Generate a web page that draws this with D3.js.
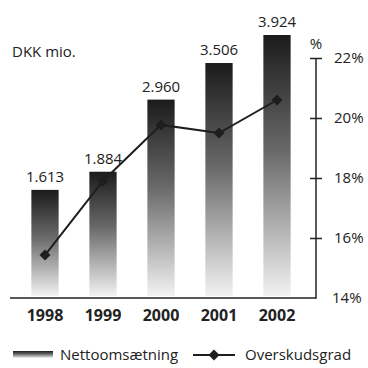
<!DOCTYPE html>
<html lang="da">
  <head>
    <meta charset="UTF-8" />
    <title>Nettoomsætning og overskudsgrad</title>
    <script src="https://cdn.jsdelivr.net/npm/d3@7"></script>
    <style>
      body { margin: 0; background: #fff; }
      text { font-family: "Open Sans", "Noto Sans", sans-serif; fill: #222; }
    </style>
  </head>
  <body>
    <div id="wrapper"></div>
    <script>
      // data
      const years = ['1998', '1999', '2000', '2001', '2002']
      const revenue = [1613, 1884, 2960, 3506, 3924]        // DKK mio.
      const revenueLabels = ['1.613', '1.884', '2.960', '3.506', '3.924']
      const margin = [15.43, 17.9, 19.77, 19.5, 20.6]        // %
      const pctTicks = [16, 18, 20, 22]

      const dms = {
        width: 368,
        height: 368,
        baseY: 298,
        left: 16,
        right: 306,
        axisX: 316
      }

      const svg = d3.select('#wrapper').append('svg')
        .attr('width', dms.width)
        .attr('height', dms.height)

      const defs = svg.append('defs')
      const grad = defs.append('linearGradient')
        .attr('id', 'barGrad')
        .attr('x1', 0).attr('y1', 0).attr('x2', 0).attr('y2', 1)
      grad.append('stop').attr('offset', '0%').attr('stop-color', '#1b1b1b')
      grad.append('stop').attr('offset', '45%').attr('stop-color', '#6a6a6a')
      grad.append('stop').attr('offset', '100%').attr('stop-color', '#f2f2f2')

      const xScale = d3.scaleBand()
        .domain(years)
        .range([dms.left, dms.right])
        .paddingInner(0.53)
        .paddingOuter(0.265)

      const yScale = d3.scaleLinear()
        .domain([0, 3924])
        .range([dms.baseY, 35])

      const pScale = d3.scaleLinear()
        .domain([14, 22])
        .range([dms.baseY, 58])

      // bars
      svg.append('g').selectAll('rect')
        .data(revenue)
        .join('rect')
        .attr('x', (d, i) => xScale(years[i]))
        .attr('width', xScale.bandwidth())
        .attr('y', d => yScale(d))
        .attr('height', d => dms.baseY - 2 - yScale(d))
        .attr('fill', 'url(#barGrad)')

      svg.append('g').selectAll('text')
        .data(revenueLabels)
        .join('text')
        .attr('x', (d, i) => xScale(years[i]) + xScale.bandwidth() / 2)
        .attr('y', (d, i) => yScale(revenue[i]) - 8)
        .attr('text-anchor', 'middle')
        .style('font-size', '15px')
        .text(d => d)

      // frame: baseline + right axis
      svg.append('line')
        .attr('x1', 10).attr('x2', dms.axisX)
        .attr('y1', dms.baseY).attr('y2', dms.baseY)
        .attr('stroke', '#222').attr('stroke-width', 1.5)

      const pAxis = d3.axisRight(pScale)
        .tickValues(pctTicks)
        .tickSize(6)
        .tickPadding(12)
        .tickFormat(d => d + '%')
      const pAxisG = svg.append('g')
        .attr('transform', `translate(${dms.axisX},0)`)
        .call(pAxis)
      pAxisG.select('.domain').remove()
      pAxisG.append('line')
        .attr('x1', 0).attr('x2', 0)
        .attr('y1', pScale(22)).attr('y2', dms.baseY + 0.75)
        .attr('stroke', '#222').attr('stroke-width', 1.5)
      pAxisG.selectAll('.tick line')
        .attr('x1', -6).attr('x2', 6)
        .attr('stroke', '#222').attr('stroke-width', 1.5)
      pAxisG.selectAll('.tick text')
        .style('font-size', '15px')
        .attr('fill', '#222')
      pAxisG.append('text')
        .attr('x', 16).attr('y', pScale(14))
        .attr('dy', '0.32em')
        .style('font-size', '15px')
        .text('14%')
      pAxisG.append('text')
        .attr('x', 0).attr('y', 49)
        .attr('text-anchor', 'middle')
        .style('font-size', '15px')
        .text('%')

      // x labels
      const xAxis = d3.axisBottom(xScale).tickSize(0).tickPadding(12)
      const xAxisG = svg.append('g')
        .attr('transform', `translate(0,${dms.baseY})`)
        .call(xAxis)
      xAxisG.select('.domain').remove()
      xAxisG.selectAll('text')
        .style('font-size', '16px')
        .style('font-weight', 'bold')
        .attr('fill', '#222')

      // line series
      const line = d3.line()
        .x((d, i) => xScale(years[i]) + xScale.bandwidth() / 2)
        .y(d => pScale(d))
      svg.append('path')
        .attr('d', line(margin))
        .attr('fill', 'none')
        .attr('stroke', '#1e1e1e')
        .attr('stroke-width', 2)

      const diamond = d3.symbol().type(d3.symbolSquare).size(60)
      svg.append('g').selectAll('path')
        .data(margin)
        .join('path')
        .attr('d', diamond)
        .attr('transform', (d, i) => `translate(${xScale(years[i]) + xScale.bandwidth() / 2},${pScale(d)}) rotate(45)`)
        .attr('fill', '#1e1e1e')

      // unit label
      svg.append('text')
        .attr('x', 12).attr('y', 57)
        .style('font-size', '15px')
        .text('DKK mio.')

      // legend
      const lg = svg.append('g').attr('transform', 'translate(0,355)')
      lg.append('rect')
        .attr('x', 13).attr('y', -4)
        .attr('width', 40).attr('height', 7)
        .attr('fill', 'url(#barGrad)')
      lg.append('text')
        .attr('x', 60).attr('y', 0).attr('dy', '0.35em')
        .style('font-size', '15px')
        .text('Nettoomsætning')
      lg.append('line')
        .attr('x1', 193).attr('x2', 235)
        .attr('y1', 0).attr('y2', 0)
        .attr('stroke', '#1e1e1e').attr('stroke-width', 2)
      lg.append('path')
        .attr('d', diamond)
        .attr('transform', 'translate(214,0) rotate(45)')
        .attr('fill', '#1e1e1e')
      lg.append('text')
        .attr('x', 245).attr('y', 0).attr('dy', '0.35em')
        .style('font-size', '15px')
        .text('Overskudsgrad')
    </script>
  </body>
</html>
